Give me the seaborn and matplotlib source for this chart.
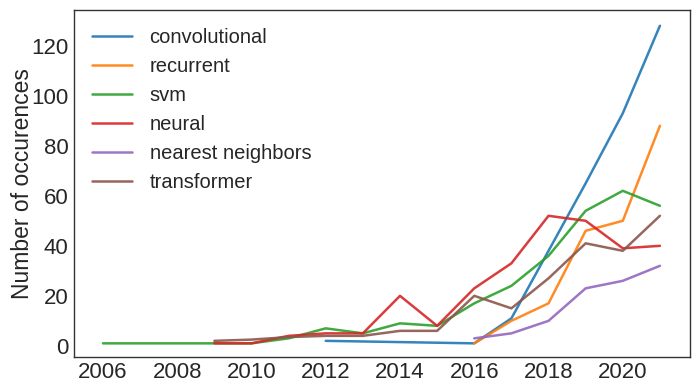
import matplotlib
matplotlib.use("Agg")
import matplotlib.pyplot as plt
import seaborn as sns
import pandas as pd

conv_years = [2012, 2016, 2017, 2018, 2019, 2020, 2021]
conv_vals = [2, 1, 11, 38, 65, 93, 128]

rec_years = [2016, 2017, 2018, 2019, 2020, 2021]
rec_vals = [1, 10, 17, 46, 50, 88]

svm_years = list(range(2006, 2022))
svm_vals = [1, 1, 1, 1, 1, 3, 7, 5, 9, 8, 17, 24, 36, 54, 62, 56]

neu_years = list(range(2009, 2022))
neu_vals = [1, 1, 4, 5, 5, 20, 8, 23, 33, 52, 50, 39, 40]

nn_years = [2016, 2017, 2018, 2019, 2020, 2021]
nn_vals = [3, 5, 10, 23, 26, 32]

tr_years = list(range(2009, 2022))
tr_vals = [2, 2.5, 3.5, 4, 4, 6, 6, 20, 15, 27, 41, 38, 52]

series = [
    ("convolutional", conv_years, conv_vals),
    ("recurrent", rec_years, rec_vals),
    ("svm", svm_years, svm_vals),
    ("neural", neu_years, neu_vals),
    ("nearest neighbors", nn_years, nn_vals),
    ("transformer", tr_years, tr_vals),
]

rows = []
for name, ys, vs in series:
    for y, v in zip(ys, vs):
        rows.append({"year": y, "count": v, "term": name})
df = pd.DataFrame(rows)

sns.set_style("white")
plt.rcParams['font.family'] = ['Liberation Sans', 'DejaVu Sans']

fig, ax = plt.subplots(figsize=(6.98, 3.90), dpi=100)
sns.lineplot(data=df, x="year", y="count", hue="term",
             hue_order=[s[0] for s in series],
             palette=sns.color_palette("tab10")[:6], linewidth=1.8,
             alpha=0.9, ax=ax)

ax.set_xlabel("")
ax.set_ylabel("Number of occurences", fontsize=16.5, color="#262626",
              labelpad=-2)
ax.set_xticks([2006, 2008, 2010, 2012, 2014, 2016, 2018, 2020])
ax.set_yticks([0, 20, 40, 60, 80, 100, 120])
ax.set_xlim(2005.22, 2021.8)
ax.set_ylim(-4.4, 134.4)
ax.tick_params(axis="both", labelsize=16, colors="#262626", length=0, pad=4)
for sp in ax.spines.values():
    sp.set_color("#333333")
    sp.set_linewidth(1.0)

leg = ax.legend(loc="upper left", fontsize=14.5, frameon=False,
                handlelength=2.0, borderaxespad=0.5, labelspacing=0.5,
                handletextpad=0.85)
for line in leg.get_lines():
    line.set_linewidth(1.8)
    line.set_alpha(0.9)

fig.subplots_adjust(left=0.106, right=0.988, top=0.975, bottom=0.085)
fig.savefig("out.png", dpi=100)
